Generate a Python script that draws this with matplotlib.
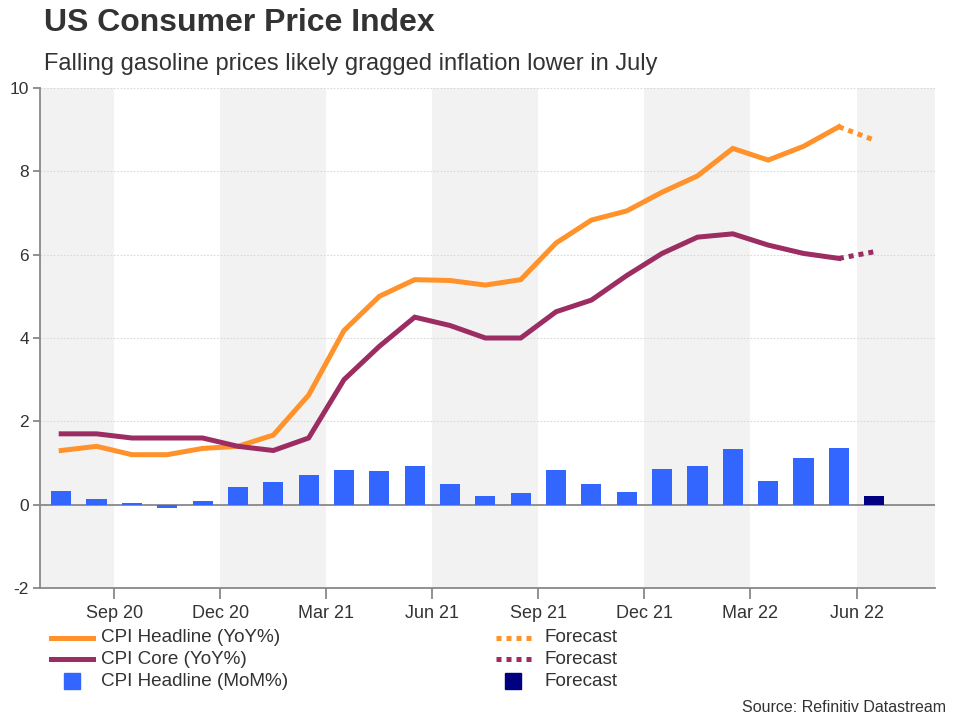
import numpy as np
import matplotlib.pyplot as plt

plt.rcParams['font.family'] = ['Liberation Sans', 'DejaVu Sans']
plt.rcParams['axes.unicode_minus'] = False

# Monthly data, Aug 2020 .. Jun 2022 (the *_fc values are the July 2022 forecasts)
months = ['Aug 20', 'Sep 20', 'Oct 20', 'Nov 20', 'Dec 20', 'Jan 21', 'Feb 21', 'Mar 21',
          'Apr 21', 'May 21', 'Jun 21', 'Jul 21', 'Aug 21', 'Sep 21', 'Oct 21', 'Nov 21',
          'Dec 21', 'Jan 22', 'Feb 22', 'Mar 22', 'Apr 22', 'May 22', 'Jun 22']
headline_yoy = [1.3, 1.4, 1.2, 1.2, 1.35, 1.4, 1.67, 2.63, 4.18, 5.0, 5.4, 5.38,
                5.27, 5.4, 6.28, 6.83, 7.05, 7.5, 7.89, 8.55, 8.27, 8.6, 9.07]
headline_fc = 8.75
core_yoy = [1.7, 1.7, 1.6, 1.6, 1.6, 1.4, 1.3, 1.6, 3.0, 3.8, 4.5, 4.3,
            4.0, 4.0, 4.63, 4.91, 5.5, 6.03, 6.42, 6.5, 6.23, 6.03, 5.91]
core_fc = 6.07
headline_mom = [0.33, 0.13, 0.03, -0.08, 0.09, 0.42, 0.55, 0.71, 0.83, 0.8, 0.92, 0.49,
                0.2, 0.27, 0.83, 0.49, 0.3, 0.85, 0.92, 1.33, 0.56, 1.11, 1.37]
mom_fc = 0.2

tick_labels = ['Sep 20', 'Dec 20', 'Mar 21', 'Jun 21', 'Sep 21', 'Dec 21', 'Mar 22', 'Jun 22']

ORANGE = '#ff922b'
MAROON = '#9b2d62'
BLUE = '#3366ff'
NAVY = '#000080'
SHADE = '#f2f2f2'
AXIS = '#888888'
TEXT = '#333333'

x = np.arange(len(headline_yoy))
x_fc = len(headline_yoy)

fig = plt.figure(figsize=(9.6, 7.17), dpi=100)
ax = fig.add_axes([40 / 960, (717 - 588) / 717, 895 / 960, 500 / 717])

# Alternating quarter shading
xmin, xmax = -0.6, 24.72
edges = [xmin] + [1.5 + 3 * k for k in range(8)] + [xmax]
for k in range(len(edges) - 1):
    if k % 2 == 0:
        ax.axvspan(edges[k], edges[k + 1], color=SHADE, lw=0, zorder=0)

for yv in [2, 4, 6, 8, 10]:
    ax.axhline(yv, color='#d9d9d9', lw=0.8, ls=(0, (1.5, 1.5)), zorder=1)
ax.axhline(0, color=AXIS, lw=1.3, zorder=2)

# Bars
ax.bar(x, headline_mom, width=0.57, color=BLUE, zorder=3)
ax.bar([x_fc], [mom_fc], width=0.57, color=NAVY, zorder=3)

# Lines
ax.plot(x, headline_yoy, color=ORANGE, lw=3.6, solid_joinstyle='miter', zorder=4)
ax.plot([x[-1], x_fc], [headline_yoy[-1], headline_fc], color=ORANGE, lw=3.6,
        ls=(0, (1, 1)), zorder=4)
ax.plot(x, core_yoy, color=MAROON, lw=3.6, solid_joinstyle='miter', zorder=4)
ax.plot([x[-1], x_fc], [core_yoy[-1], core_fc], color=MAROON, lw=3.6,
        ls=(0, (1, 1)), zorder=4)

ax.set_xlim(xmin, xmax)
ax.set_ylim(-2, 10)
ax.set_yticks([-2, 0, 2, 4, 6, 8, 10])
ax.set_xticks([1.5 + 3 * k for k in range(len(tick_labels))])
ax.set_xticklabels(tick_labels)

for side in ['top', 'right']:
    ax.spines[side].set_visible(False)
for side in ['left', 'bottom']:
    ax.spines[side].set_color(AXIS)
    ax.spines[side].set_linewidth(1.3)
ax.tick_params(axis='y', colors=AXIS, length=5, width=1.3, labelsize=12.5,
               labelcolor=TEXT, pad=3)
ax.tick_params(axis='x', colors=AXIS, length=8, width=1.3, labelsize=13,
               labelcolor=TEXT, pad=4)

# Titles
fig.text(44 / 960, 1 - 23 / 717, 'US Consumer Price Index', fontsize=23,
         fontweight='bold', color=TEXT, va='center', ha='left')
fig.text(44 / 960, 1 - 64 / 717,
         'Falling gasoline prices likely gragged inflation lower in July',
         fontsize=17, color=TEXT, va='center', ha='left')

# Legend (drawn manually in figure pixels)
def fy(py):
    return 1 - py / 717

def fx(px):
    return px / 960

rows = [638, 659, 681]
fig.add_artist(plt.Line2D([fx(51), fx(93)], [fy(638)] * 2, color=ORANGE, lw=3.6))
fig.add_artist(plt.Line2D([fx(51), fx(93)], [fy(659)] * 2, color=MAROON, lw=3.6))
fig.add_artist(plt.Rectangle((fx(64), fy(689)), fx(16), 16 / 717, color=BLUE))
fig.add_artist(plt.Line2D([fx(496), fx(536)], [fy(638)] * 2, color=ORANGE, lw=3.6,
                          ls=(0, (1, 1))))
fig.add_artist(plt.Line2D([fx(496), fx(536)], [fy(659)] * 2, color=MAROON, lw=3.6,
                          ls=(0, (1, 1))))
fig.add_artist(plt.Rectangle((fx(505), fy(689)), fx(16), 16 / 717, color=NAVY))

left_labels = ['CPI Headline (YoY%)', 'CPI Core (YoY%)', 'CPI Headline (MoM%)']
for py, lab in zip(rows, left_labels):
    fig.text(fx(101), fy(py), lab, fontsize=13.6, color=TEXT, va='center')
    fig.text(fx(544), fy(py), 'Forecast', fontsize=13.6, color=TEXT, va='center')

fig.text(fx(946), fy(707), 'Source: Refinitiv Datastream', fontsize=11.5,
         color=TEXT, va='center', ha='right')

fig.savefig('out.png', dpi=100)
